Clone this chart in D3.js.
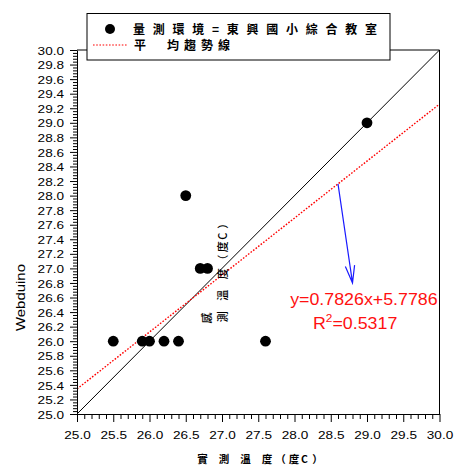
<!DOCTYPE html>
<html>
<head>
<meta charset="utf-8">
<script src="https://cdn.jsdelivr.net/npm/d3@7"></script>
<style>
  body { margin: 0; background: #fff; }
  svg { display: block; }
</style>
</head>
<body>
<script>
// Paired readings: thermometer (x) vs. Webduino sensor (y), in °C
const measuredTemp = [25.5, 25.9, 26.0, 26.2, 26.4, 26.5, 26.7, 26.8, 27.6, 29.0];
const webduinoTemp = [26.0, 26.0, 26.0, 26.0, 26.0, 28.0, 27.0, 27.0, 26.0, 29.0];

// Linear trend fitted to the readings
const fitSlope = 0.7826;
const fitIntercept = 5.7786;
const fitR2 = 0.5317;

const xTickValues = [25.0, 25.5, 26.0, 26.5, 27.0, 27.5, 28.0, 28.5, 29.0, 29.5, 30.0];
const yTickValues = [25.0, 25.2, 25.4, 25.6, 25.8, 26.0, 26.2, 26.4, 26.6, 26.8, 27.0,
                     27.2, 27.4, 27.6, 27.8, 28.0, 28.2, 28.4, 28.6, 28.8, 29.0,
                     29.2, 29.4, 29.6, 29.8, 30.0];

const legendPointLabel = "量測環境=東興國小綜合教室";
const legendTrendFirst = "平";
const legendTrendRest = "均趨勢線";
const xTitleChars = ["實", "測", "溫", "度", "（", "度", "C", "）"];
const yTitleLead = "感";
const yTitleChars = ["測", "溫", "度", "（", "度", "C", "）"];
const yAxisName = "Webduino";

const W = 454, H = 466;
const domain = [25, 30];
const x = d3.scaleLinear().domain(domain).range([77, 439.5]);
const y = d3.scaleLinear().domain(domain).range([414, 50]);

const LATIN = "'Liberation Sans', Arial, sans-serif";
const CJK = "'Noto Sans CJK TC', 'Noto Sans CJK SC', sans-serif";

const svg = d3.select("body").append("svg")
  .attr("width", W).attr("height", H);

// Stretch text horizontally around its own anchor
function stretchText(sel, sx) {
  sel.each(function () {
    const t = d3.select(this);
    const x0 = +t.attr("x") || 0;
    t.attr("x", x0 / sx).attr("transform", `scale(${sx},1)`);
  });
}

// ---- clipped plot content ----
svg.append("defs").append("clipPath").attr("id", "plotClip")
  .append("rect")
  .attr("x", x(25)).attr("y", y(30))
  .attr("width", x(30) - x(25)).attr("height", y(25) - y(30));

const plot = svg.append("g").attr("clip-path", "url(#plotClip)");

// 1:1 reference line
plot.append("path")
  .datum(domain)
  .attr("d", d3.line().x(d => x(d)).y(d => y(d)))
  .attr("fill", "none").attr("stroke", "#000").attr("stroke-width", 1);

// trend line
const fit = v => fitSlope * v + fitIntercept;
plot.append("path")
  .datum(domain)
  .attr("d", d3.line().x(d => x(d)).y(d => y(fit(d))))
  .attr("fill", "none").attr("stroke", "#ff0000")
  .attr("stroke-width", 1.4).attr("stroke-dasharray", "1.6,1.6");

// points
plot.selectAll("circle.pt")
  .data(measuredTemp.map((v, i) => [v, webduinoTemp[i]]))
  .join("circle").attr("class", "pt")
  .attr("cx", d => x(d[0])).attr("cy", d => y(d[1]))
  .attr("r", 5.4).attr("fill", "#000");

// ---- axes ----
const yMinor = d3.range(25, 30.0001, 0.04).filter(v => Math.abs(v * 5 - Math.round(v * 5)) > 1e-6);
const xMinor = d3.range(25, 30.0001, 0.1).filter(v => Math.abs(v * 2 - Math.round(v * 2)) > 1e-6);

svg.append("g").attr("transform", `translate(${x(25)},0)`)
  .call(d3.axisLeft(y).tickValues(yMinor).tickSize(4).tickFormat("").tickSizeOuter(0))
  .call(g => g.select(".domain").remove());

svg.append("g").attr("transform", `translate(0,${y(25)})`)
  .call(d3.axisBottom(x).tickValues(xMinor).tickSize(5).tickFormat("").tickSizeOuter(0))
  .call(g => g.select(".domain").remove());

const yAxis = svg.append("g").attr("transform", `translate(${x(25)},0)`)
  .call(d3.axisLeft(y).tickValues(yTickValues).tickFormat(d3.format(".1f"))
    .tickSize(7).tickPadding(6).tickSizeOuter(0));
yAxis.selectAll("text")
  .attr("font-family", LATIN).attr("font-size", 11.5).attr("fill", "#000")
  .attr("dy", "0.36em");
stretchText(yAxis.selectAll("text"), 1.18);

const xAxis = svg.append("g").attr("transform", `translate(0,${y(25)})`)
  .call(d3.axisBottom(x).tickValues(xTickValues).tickFormat(d3.format(".1f"))
    .tickSize(8).tickPadding(9).tickSizeOuter(0));
xAxis.selectAll("text")
  .attr("font-family", LATIN).attr("font-size", 11.5).attr("fill", "#000");
stretchText(xAxis.selectAll("text"), 1.18);

svg.selectAll(".tick line").attr("stroke", "#000");
svg.selectAll(".domain").attr("stroke", "#000");

// frame: top and right edges
svg.append("path")
  .attr("d", `M${x(25)},${y(30)}H${x(30)}V${y(25)}`)
  .attr("fill", "none").attr("stroke", "#000").attr("stroke-width", 1);

// ---- axis titles ----
// x title, characters set out along the axis
const titleOffsets = [0, 21.5, 43, 64.5, 78, 91.5, 102, 115];
const xt = svg.append("g").attr("transform", `translate(${x(25) + 125.5},463)`);
xt.selectAll("text").data(xTitleChars).join("text")
  .attr("x", (d, i) => titleOffsets[i]).attr("y", 0)
  .attr("text-anchor", "middle")
  .attr("font-family", CJK).attr("font-size", 10.5).attr("fill", "#000")
  .attr("font-weight", 700)
  .text(d => d);

// sensor title, written upward through the plot
const yt = svg.append("g").attr("transform", `translate(226.5,${y(25) - 97.3}) rotate(-90)`);
yt.selectAll("text").data(yTitleChars).join("text")
  .attr("x", (d, i) => titleOffsets[i + 1] - 21.5).attr("y", 0)
  .attr("text-anchor", "middle")
  .attr("font-family", CJK).attr("font-size", 11).attr("fill", "#000")
  .attr("font-weight", 500)
  .text(d => d);
svg.append("text")
  .attr("transform", `translate(211,${y(25) - 96}) rotate(-90)`)
  .attr("text-anchor", "middle")
  .attr("font-family", CJK).attr("font-size", 11).attr("fill", "#000")
  .attr("font-weight", 500)
  .text(yTitleLead);

// Webduino axis name
svg.append("text")
  .attr("transform", `translate(25,${y(26.6)}) rotate(-90) scale(1.15,1)`)
  .attr("text-anchor", "middle")
  .attr("font-family", LATIN).attr("font-size", 13).attr("fill", "#000")
  .text(yAxisName);

// ---- annotation: arrow to the fit equation ----
const a0 = [x(28.6), y(fit(28.6))];
const a1 = [x(28.8), y(26.8)];
const ang = Math.atan2(a0[1] - a1[1], a0[0] - a1[0]);
const headLen = 18, headAng = 15 * Math.PI / 180;
const h1 = [a1[0] + headLen * Math.cos(ang - headAng), a1[1] + headLen * Math.sin(ang - headAng)];
const h2 = [a1[0] + headLen * Math.cos(ang + headAng), a1[1] + headLen * Math.sin(ang + headAng)];
svg.append("path")
  .attr("d", `M${a0}L${a1}M${h1}L${a1}L${h2}`)
  .attr("fill", "none").attr("stroke", "#1a1aff").attr("stroke-width", 1.2);

const eq = svg.append("text")
  .attr("x", x(27.94)).attr("y", y(26.497))
  .attr("font-family", LATIN).attr("font-size", 16.5).attr("fill", "#ff1010")
  .text(`y=${fitSlope.toFixed(4)}x+${fitIntercept.toFixed(4)}`);
stretchText(eq, 1.08);

const r2 = svg.append("text")
  .attr("x", x(28.255)).attr("y", y(26.168))
  .attr("font-family", LATIN).attr("font-size", 16.5).attr("fill", "#ff1010");
r2.append("tspan").text("R");
r2.append("tspan").attr("dy", -7).attr("font-size", 11).text("2");
r2.append("tspan").attr("dy", 7).text(`=${fitR2.toFixed(4)}`);
stretchText(r2, 1.08);

// ---- legend ----
const lg = svg.append("g");
lg.append("rect")
  .attr("x", 87).attr("y", 13.5).attr("width", 303).attr("height", 46.5)
  .attr("fill", "#fff").attr("stroke", "#000").attr("stroke-width", 1);
lg.append("circle").attr("cx", 110).attr("cy", 29).attr("r", 5).attr("fill", "#000");
lg.append("line")
  .attr("x1", 93).attr("x2", 127).attr("y1", 45).attr("y2", 45)
  .attr("stroke", "#ff0000").attr("stroke-width", 1.2).attr("stroke-dasharray", "1.6,1.6");
lg.append("text")
  .attr("x", 133).attr("y", 33.5)
  .attr("textLength", 244).attr("lengthAdjust", "spacing")
  .attr("font-family", CJK).attr("font-size", 12).attr("font-weight", 700).attr("fill", "#000")
  .text(legendPointLabel);
lg.append("text")
  .attr("x", 134).attr("y", 50)
  .attr("font-family", CJK).attr("font-size", 12).attr("font-weight", 700).attr("fill", "#000")
  .text(legendTrendFirst);
lg.append("text")
  .attr("x", 167).attr("y", 50)
  .attr("textLength", 63).attr("lengthAdjust", "spacing")
  .attr("font-family", CJK).attr("font-size", 12).attr("font-weight", 700).attr("fill", "#000")
  .text(legendTrendRest);
</script>
</body>
</html>
